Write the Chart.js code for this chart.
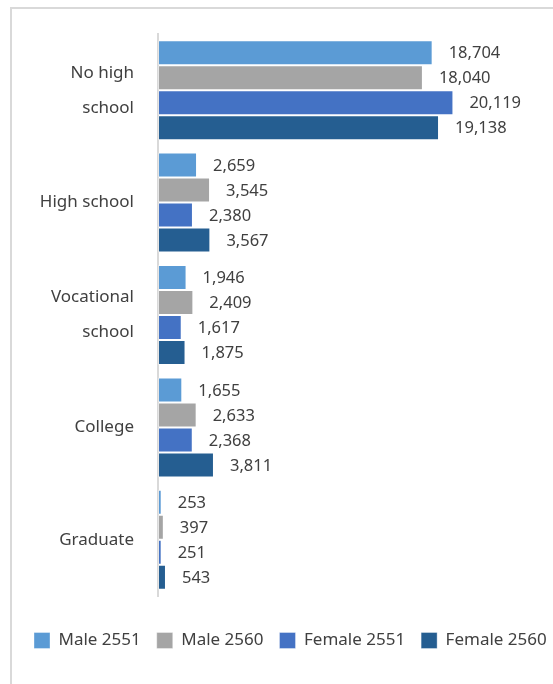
<!DOCTYPE html>
<html>
<head>
<meta charset="utf-8">
<script src="https://cdn.jsdelivr.net/npm/chart.js@4"></script>
<style>
  html, body { margin: 0; padding: 0; background: #ffffff; overflow: hidden; width: 553px; height: 684px; }
  #frame { position: absolute; left: 10px; top: 7px; width: 620px; height: 720px; border: 2px solid #d9d9d9; box-sizing: border-box; }
  #wrap { position: absolute; left: 0; top: 0; width: 600px; height: 684px; }
</style>
</head>
<body>
<div id="frame"></div>
<div id="wrap"><canvas id="c" width="600" height="684"></canvas></div>
<script>
const categories = [["No high", "school"], "High school", ["Vocational", "school"], "College", "Graduate"];
const seriesNames = ["Male 2551", "Male 2560", "Female 2551", "Female 2560"];
const male2551 = [18704, 2659, 1946, 1655, 253];
const male2560 = [18040, 3545, 2409, 2633, 397];
const female2551 = [20119, 2380, 1617, 2368, 251];
const female2560 = [19138, 3567, 1875, 3811, 543];
const seriesColors = ["#5B9BD5", "#A5A5A5", "#4472C4", "#255E91"];

const FONT = "'Noto Sans', sans-serif";
const TEXT = "#404040";

const valueLabels = {
  id: 'valueLabels',
  afterDatasetsDraw(chart) {
    const ctx = chart.ctx;
    ctx.save();
    ctx.font = "16.5px " + FONT;
    ctx.fillStyle = TEXT;
    ctx.textAlign = 'left';
    ctx.textBaseline = 'middle';
    chart.data.datasets.forEach((ds, di) => {
      const meta = chart.getDatasetMeta(di);
      meta.data.forEach((bar, i) => {
        ctx.fillText(ds.data[i].toLocaleString('en-US'), bar.x + 16, bar.y + 1);
      });
    });
    ctx.restore();
  }
};

const allSeries = [male2551, male2560, female2551, female2560];

new Chart(document.getElementById('c'), {
  type: 'bar',
  data: {
    labels: categories,
    datasets: allSeries.map((d, i) => ({
      label: seriesNames[i],
      data: d,
      backgroundColor: seriesColors[i],
      borderColor: 'rgba(255,255,255,0.35)',
      borderWidth: 1,
      borderSkipped: false,
      categoryPercentage: 0.89,
      barPercentage: 1.0
    }))
  },
  options: {
    indexAxis: 'y',
    responsive: false,
    animation: false,
    devicePixelRatio: 1,
    layout: { padding: { left: 18, right: 0, top: 34, bottom: 25 } },
    scales: {
      x: {
        min: 0, max: 30100,
        display: true,
        ticks: { display: false },
        grid: { display: false, drawTicks: false },
        border: { display: false },
        afterFit(s) { s.height = 20; }
      },
      y: {
        grid: { display: false, drawTicks: false },
        border: { display: true, color: '#d9d9d9', width: 2 },
        ticks: {
          color: TEXT,
          padding: 24,
          font: { family: FONT, size: 17, lineHeight: 2.06 },
          crossAlign: 'near'
        },
        afterFit(s) { s.width = 140; s.paddingTop = 0; s.paddingBottom = 0; }
      }
    },
    plugins: {
      legend: {
        position: 'bottom',
        align: 'start',
        labels: {
          boxWidth: 16,
          boxHeight: 16,
          padding: 16,
          color: TEXT,
          font: { family: FONT, size: 17 }
        }
      },
      tooltip: { enabled: false }
    }
  },
  plugins: [valueLabels]
});
</script>
</body>
</html>
